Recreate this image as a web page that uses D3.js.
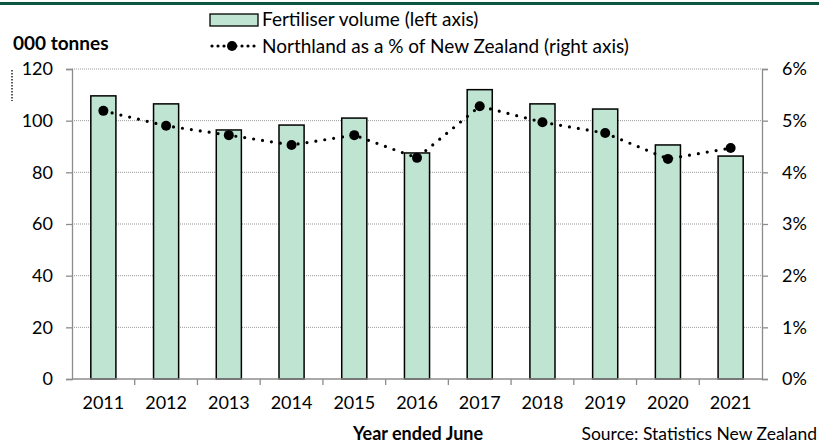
<!DOCTYPE html>
<html>
<head>
<meta charset="utf-8">
<script src="https://cdn.jsdelivr.net/npm/d3@7"></script>
<style>
  body { margin: 0; background: #fff; }
  text { font-family: Lato, "Open Sans", sans-serif; fill: #000; }
</style>
</head>
<body>
<svg width="819" height="443"></svg>
<script>
var years = ["2011", "2012", "2013", "2014", "2015", "2016", "2017", "2018", "2019", "2020", "2021"];
var volume = [109.6, 106.5, 96.4, 98.3, 101, 87.5, 112, 106.5, 104.5, 90.6, 86.3];
var share = [5.19, 4.90, 4.72, 4.53, 4.72, 4.28, 5.28, 4.97, 4.76, 4.26, 4.47];
var leftTicks = [0, 20, 40, 60, 80, 100, 120];
var rightTicks = [0, 1, 2, 3, 4, 5, 6];

var svg = d3.select("svg"),
    width = +svg.attr("width"),
    height = +svg.attr("height");
var mLeft = 72, mRight = 762, mTop = 69, mBottom = 379;

var x = d3.scaleBand().domain(years).range([mLeft, mRight]).paddingInner(0.6).paddingOuter(0.3);
var y = d3.scaleLinear().domain([0, 120]).range([mBottom, mTop]);
var y2 = d3.scaleLinear().domain([0, 6]).range([mBottom, mTop]);

// green rule across the top
svg.append("rect").attr("x", 0).attr("y", 2).attr("width", width).attr("height", 3).attr("fill", "#0b5541");

// gridlines
svg.append("g").selectAll("line")
    .data(leftTicks.slice(1))
    .enter().append("line")
    .attr("x1", mLeft).attr("x2", mRight)
    .attr("y1", function (d) { return y(d); }).attr("y2", function (d) { return y(d); })
    .attr("stroke", "#999").attr("stroke-width", 1).attr("stroke-dasharray", "1,1");

// bars
svg.append("g").selectAll("rect")
    .data(volume)
    .enter().append("rect")
    .attr("x", function (d, i) { return x(years[i]); })
    .attr("y", function (d) { return y(d); })
    .attr("width", x.bandwidth())
    .attr("height", function (d) { return y(0) - y(d); })
    .attr("fill", "#bfe4d2")
    .attr("stroke", "#000")
    .attr("stroke-width", 1.5);

// axes
var axisColor = "#8c8c8c";
var gl = svg.append("g").attr("transform", "translate(" + mLeft + ",0)")
    .call(d3.axisLeft(y).tickValues(leftTicks).tickSize(6).tickPadding(13));
var gr = svg.append("g").attr("transform", "translate(" + mRight + ",0)")
    .call(d3.axisRight(y2).tickValues(rightTicks).tickSize(6).tickPadding(14)
        .tickFormat(function (d) { return d + "%"; }));
var gb = svg.append("g").attr("transform", "translate(0," + mBottom + ")")
    .call(d3.axisBottom(x).tickSize(0).tickPadding(17));
[gl, gr, gb].forEach(function (g) {
    g.select(".domain").attr("stroke", axisColor).attr("stroke-width", 1.3);
    g.selectAll(".tick line").attr("stroke", axisColor).attr("stroke-width", 1.3);
    g.selectAll("text").attr("font-size", 18).attr("fill", "#000")
        .style("font-family", "Lato, 'Open Sans', sans-serif");
});
gb.select(".domain").attr("d", "M" + mLeft + ",0H" + mRight);
// category boundary ticks on x axis
var step = x.step();
var first = x(years[0]) - (step - x.bandwidth()) / 2;
var bounds = d3.range(1, years.length).map(function (i) { return first + i * step; });
svg.append("g").selectAll("line")
    .data(bounds)
    .enter().append("line")
    .attr("x1", function (d) { return d; }).attr("x2", function (d) { return d; })
    .attr("y1", mBottom).attr("y2", mBottom + 6)
    .attr("stroke", axisColor).attr("stroke-width", 1.3);

// line series
var line = d3.line()
    .x(function (d, i) { return x(years[i]) + x.bandwidth() / 2; })
    .y(function (d) { return y2(d); });
svg.append("path")
    .datum(share)
    .attr("d", line)
    .attr("fill", "none")
    .attr("stroke", "#000")
    .attr("stroke-width", 3.2)
    .attr("stroke-linecap", "round")
    .attr("stroke-dasharray", "0,9");
svg.append("g").selectAll("circle")
    .data(share)
    .enter().append("circle")
    .attr("cx", function (d, i) { return x(years[i]) + x.bandwidth() / 2; })
    .attr("cy", function (d) { return y2(d); })
    .attr("r", 5)
    .attr("fill", "#000");

// legend
var lg = svg.append("g");
lg.append("rect").attr("x", 210).attr("y", 14).attr("width", 48).attr("height", 12)
    .attr("fill", "#bfe4d2").attr("stroke", "#000").attr("stroke-width", 1.3);
lg.append("text").attr("x", 262).attr("y", 26).attr("font-size", 19).text("Fertiliser volume (left axis)");
lg.append("line").attr("x1", 212).attr("x2", 256).attr("y1", 46).attr("y2", 46)
    .attr("stroke", "#000").attr("stroke-width", 3.2).attr("stroke-linecap", "round").attr("stroke-dasharray", "0,6");
lg.append("circle").attr("cx", 232).attr("cy", 46).attr("r", 5).attr("fill", "#000");
lg.append("text").attr("x", 262).attr("y", 53).attr("font-size", 19).text("Northland as a % of New Zealand (right axis)");

// titles
svg.append("text").attr("x", 13).attr("y", 50).attr("font-size", 19).attr("font-weight", "bold").text("000 tonnes");
svg.append("line").attr("x1", 12).attr("x2", 12).attr("y1", 70).attr("y2", 101)
    .attr("stroke", "#000").attr("stroke-width", 1.3).attr("stroke-dasharray", "1.5,1.5");
svg.append("text").attr("x", 418).attr("y", 440).attr("text-anchor", "middle")
    .attr("font-size", 18).attr("font-weight", "bold").text("Year ended June");
svg.append("text").attr("x", 817).attr("y", 440).attr("text-anchor", "end")
    .attr("font-size", 17.5).text("Source: Statistics New Zealand");
</script>
</body>
</html>
